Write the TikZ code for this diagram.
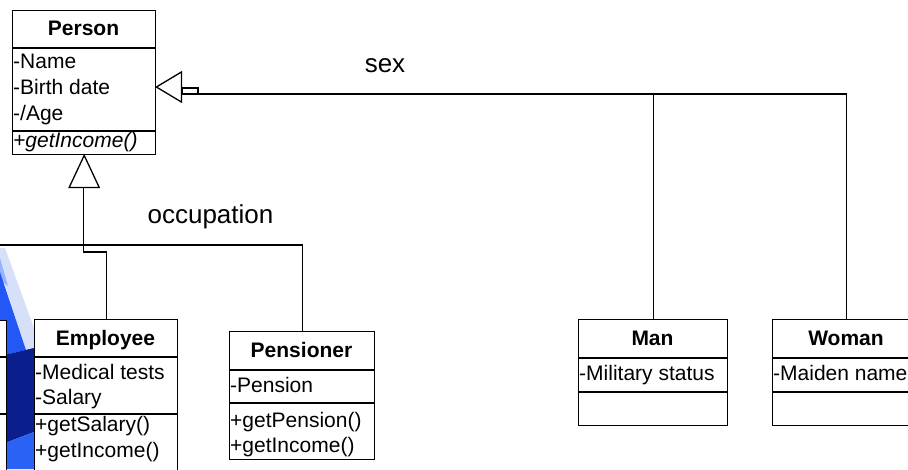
\documentclass[tikz,border=0pt]{standalone}
\usepackage{fontspec}
\setmainfont{Liberation Sans}
\begin{document}
\begin{tikzpicture}[x=1pt,y=-1pt,
  classbox/.style={draw=black, line width=1.4pt, fill=white, inner sep=0pt, anchor=north west},
  divider/.style={draw=black, line width=1.3pt},
  clsname/.style={font=\fontsize{21}{25}\selectfont\bfseries, inner sep=0pt, anchor=base},
  member/.style={font=\fontsize{21}{25}\selectfont, inner sep=0pt, anchor=base west},
  tag/.style={font=\fontsize{26}{30}\selectfont, inner sep=0pt, anchor=base},
  link/.style={draw=black, line width=1.3pt},
  inherit/.style={draw=black, line width=1.3pt, fill=white, line join=miter}
]
\useasboundingbox (0,0) rectangle (908,469);
\clip (0,0) rectangle (908,469);

% slide background swoosh at the left edge
\fill[color={rgb,255:red,214;green,224;blue,248}] (0,248) -- (5,248) -- (34,328) -- (34,349) -- (26,350) -- (0,270) -- cycle;
\fill[color={rgb,255:red,150;green,180;blue,250}] (0,258) -- (0,280) -- (8,286) -- cycle;
\fill[color={rgb,255:red,36;green,88;blue,245}] (0,272) -- (26,350) -- (0,356) -- cycle;
\fill[color={rgb,255:red,11;green,30;blue,142}] (0,356) -- (34,348) -- (34,432) -- (0,445) -- cycle;
\fill[color={rgb,255:red,42;green,98;blue,245}] (0,445) -- (34,432) -- (34,469) -- (0,469) -- cycle;

% Person
\node[classbox, minimum width=143pt, minimum height=144pt] (person) at (12,10) {};
\draw[divider] (12,48) -- (155,48);
\draw[divider] (12,131) -- (155,131);
\node[clsname] (personname) at (83.5,35) {Person};
\node[member] (pname) at (13,68) {-Name};
\node[member] (pbirth) at (13,94) {-Birth date};
\node[member] (page) at (13,120) {-/Age};
\node[member] (pincome) at (13,147) {\itshape +getIncome()};

% partly visible class at the left edge
\node[classbox, minimum width=150pt, minimum height=170pt] (leftcls) at (-144,320) {};
\draw[divider] (-144,357) -- (6,357);
\draw[divider] (-144,414) -- (6,414);

% Employee
\node[classbox, minimum width=143pt, minimum height=170pt] (employee) at (34,319) {};
\draw[divider] (34,357) -- (177,357);
\draw[divider] (34,414) -- (177,414);
\node[clsname] (employeename) at (105.5,345) {Employee};
\node[member] (emedical) at (35,379) {-Medical tests};
\node[member] (esalary) at (35,404) {-Salary};
\node[member] (egetsalary) at (35,431) {+getSalary()};
\node[member] (eincome) at (35,457) {+getIncome()};

% Pensioner
\node[classbox, minimum width=145pt, minimum height=128pt] (pensioner) at (229,331) {};
\draw[divider] (229,370) -- (374,370);
\draw[divider] (229,403) -- (374,403);
\node[clsname] (pensionername) at (301.5,357) {Pensioner};
\node[member] (npension) at (230,392) {-Pension};
\node[member] (ngetpension) at (230,427) {+getPension()};
\node[member] (nincome) at (230,452) {+getIncome()};

% Man
\node[classbox, minimum width=149pt, minimum height=106pt] (man) at (578,319) {};
\draw[divider] (578,358) -- (727,358);
\draw[divider] (578,392) -- (727,392);
\node[clsname] (manname) at (652.5,345) {Man};
\node[member] (mmilitary) at (579,380) {-Military status};

% Woman
\node[classbox, minimum width=148pt, minimum height=106pt] (woman) at (772,319) {};
\draw[divider] (772,358) -- (920,358);
\draw[divider] (772,392) -- (920,392);
\node[clsname] (womanname) at (846,345) {Woman};
\node[member] (wmaiden) at (773,380) {-Maiden name};

% generalisation by sex
\coordinate (sexjoin) at (198,94);
\coordinate (sextip) at (person.east |- 0,87);
\draw[link] (man.north) -- (man.north |- sexjoin) -- (sexjoin);
\draw[link] (woman.north) -- (woman.north |- sexjoin) -- (man.north |- sexjoin);
\draw[link, fill=white] (182,88) rectangle (sexjoin);
\draw[inherit] (sextip) -- ++(25,-15) -- ++(0,30) -- cycle;
\node[tag] (sexlabel) at (385,72) {sex};

% generalisation by occupation
\coordinate (occtip) at (person.south);
\coordinate (occbase) at (83.5,186);
\coordinate (occbar) at (0,245);
\draw[link] (occbase) -- (83.5,252) -- (employee.north |- 0,252) -- (employee.north);
\draw[link] (occbar) -- (pensioner.north |- occbar) -- (pensioner.north);
\draw[inherit] (occtip) -- ++(-15,32) -- ++(30,0) -- cycle;
\node[tag] (occlabel) at (210.5,223) {occupation};
\end{tikzpicture}
\end{document}
